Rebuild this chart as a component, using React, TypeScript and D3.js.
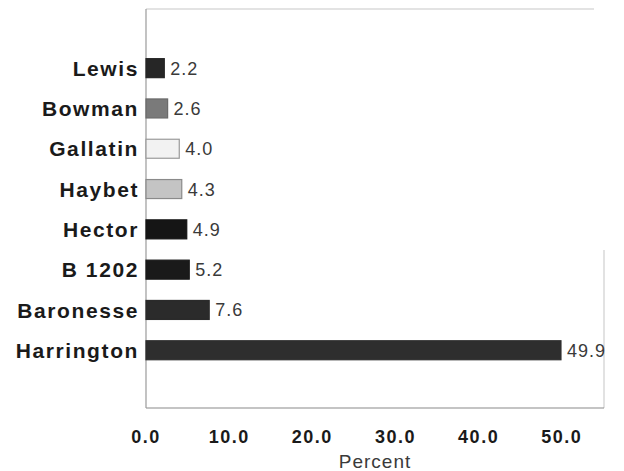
import React from "react";
import * as d3 from "d3";

const categories = ["Lewis", "Bowman", "Gallatin", "Haybet", "Hector", "B 1202", "Baronesse", "Harrington"];
const values = [2.2, 2.6, 4.0, 4.3, 4.9, 5.2, 7.6, 49.9];
const fills = ["#262626", "#7a7a7a", "#f2f2f2", "#c4c4c4", "#151515", "#1a1a1a", "#2b2b2b", "#2e2e2e"];
const strokes = ["#262626", "#6a6a6a", "#9a9a9a", "#8a8a8a", "#151515", "#1a1a1a", "#2b2b2b", "#2e2e2e"];
const xTicks = [0, 10, 20, 30, 40, 50];

export default function App() {
  const W = 624, H = 471;
  const left = 146, right = 604, top = 9, bottom = 408;
  const x = d3.scaleLinear().domain([0, 50]).range([left, left + 415.8]);
  const y = d3.scaleBand<string>().domain(categories).range([48, 370.4]).paddingInner(0.52).paddingOuter(0.26);
  const bh = 19;
  return (
    <svg width={W} height={H} style={{ position: "absolute", left: 0, top: 0, background: "#fff" }}
      fontFamily="'Liberation Sans', Arial, sans-serif">
      {/* frame */}
      <line x1={left} x2={right - 10} y1={top} y2={top} stroke="#c8c8c8" strokeWidth={1.2} />
      <line x1={right} x2={right} y1={250} y2={bottom} stroke="#cfcfcf" strokeWidth={1.2} />
      <line x1={left} x2={right} y1={bottom} y2={bottom} stroke="#8a8a8a" strokeWidth={1.2} />
      <line x1={left} x2={left} y1={top} y2={bottom} stroke="#9a9a9a" strokeWidth={1.2} />
      {categories.map((c, i) => {
        const cy = (y(c) as number) + y.bandwidth() / 2;
        return (
          <g key={c}>
            <rect x={x(0)} y={cy - bh / 2} width={x(values[i]) - x(0)} height={bh}
              fill={fills[i]} stroke={strokes[i]} strokeWidth={1.2} />
            <text x={left - 7} y={cy} dy="0.36em" textAnchor="end" fontSize={21} fontWeight="bold"
              letterSpacing={1.6} fill="#1a1a1a">{c}</text>
            <text x={x(values[i]) + 6} y={cy} dy="0.36em" fontSize={18} letterSpacing={1}
              fill="#3a3a3a">{values[i].toFixed(1)}</text>
          </g>
        );
      })}
      {xTicks.map((t) => (
        <text key={t} x={x(t)} y={437} dy="0.36em" textAnchor="middle" fontSize={18} fontWeight="bold"
          letterSpacing={1.5} fill="#1a1a1a">{t.toFixed(1)}</text>
      ))}
      <text x={(left + right) / 2} y={461} dy="0.36em" textAnchor="middle" fontSize={19} letterSpacing={1}
        fill="#3a3a3a">Percent</text>
    </svg>
  );
}
